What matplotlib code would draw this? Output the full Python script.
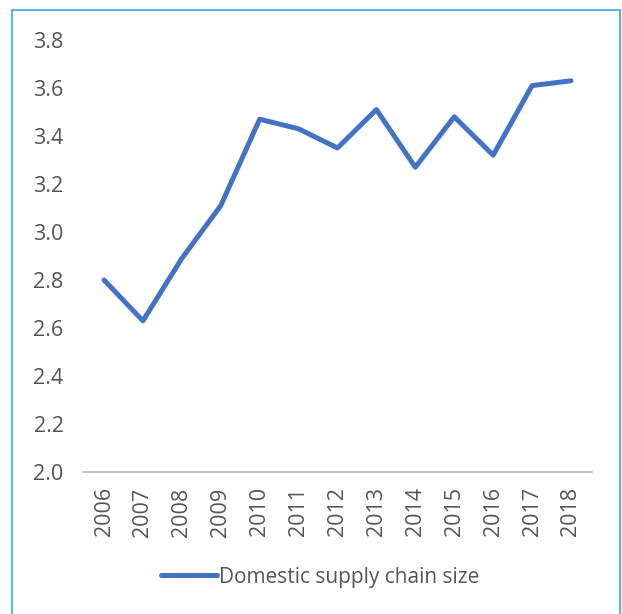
import matplotlib
matplotlib.use("Agg")
import matplotlib.pyplot as plt
from matplotlib.patches import Rectangle
from matplotlib.lines import Line2D

years = ["2006", "2007", "2008", "2009", "2010", "2011", "2012",
         "2013", "2014", "2015", "2016", "2017", "2018"]
values = [2.80, 2.63, 2.89, 3.11, 3.47, 3.43, 3.35, 3.51, 3.27, 3.48, 3.32, 3.61, 3.63]
yticks = [2.0, 2.2, 2.4, 2.6, 2.8, 3.0, 3.2, 3.4, 3.6, 3.8]
series_name = "Domestic supply chain size"

plt.rcParams['font.family'] = ['Open Sans', 'DejaVu Sans']
text_color = "#555555"
line_color = "#4472C4"

fig = plt.figure(figsize=(6.22, 6.14), dpi=100)
ax = fig.add_axes([83/622, 1-472/614, (592-83)/622, (472-40)/614])

x = list(range(len(years)))
ax.plot(x, values, color=line_color, linewidth=3.6, solid_joinstyle='round',
        solid_capstyle='round')

ax.set_xlim(-0.54, len(years) - 1 + 0.54)
ax.set_ylim(2.0, 3.8)
ax.set_yticks(yticks)
ax.set_yticklabels([f"{v:.1f}" for v in yticks])
ax.set_xticks(x)
ax.set_xticklabels(years, rotation=90)

for s in ["top", "right", "left"]:
    ax.spines[s].set_visible(False)
ax.spines["bottom"].set_color("#BFBFBF")
ax.spines["bottom"].set_linewidth(1.3)
ax.tick_params(axis='both', length=0, labelsize=15.5, colors=text_color)
ax.tick_params(axis='y', pad=14)
ax.tick_params(axis='x', pad=11)

# legend
handle = Line2D([], [], color=line_color, linewidth=3.6, solid_capstyle='round')
fig.legend([handle], [series_name], loc='center', bbox_to_anchor=(320/622, 1-577/614),
           frameon=False, fontsize=15, labelcolor=text_color,
           handlelength=2.7, handletextpad=0.1)

# figure border
fig.patches.append(Rectangle((12/622, -0.01), (620-12)/622, 1-10/614 + 0.01,
                             transform=fig.transFigure, fill=False,
                             edgecolor="#5BB7E5", linewidth=1.5))

fig.savefig("out.png", dpi=100, facecolor="white")
